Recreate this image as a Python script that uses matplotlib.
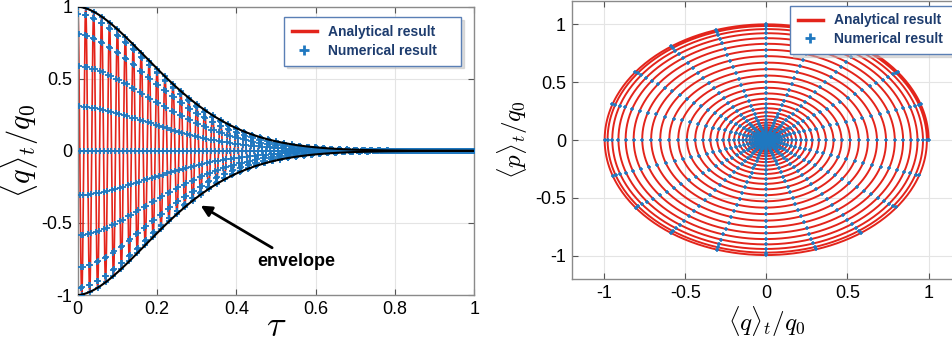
import numpy as np
import matplotlib
matplotlib.use('Agg')
import matplotlib.pyplot as plt
from matplotlib.lines import Line2D

# values
tau_end = 1.0             # tau axis runs 0..1
n_periods = 50            # red peaks counted: one every ~0.02 in tau
samples_per_period = 20   # 20 spokes of blue points in the phase plot
env_rate = 8.95           # envelope: 0.85 at 0.1, 0.5 at 0.215, 0.32 at 0.3, 0.12 at 0.43
env_power = 1.72

xticks_left = [0, 0.2, 0.4, 0.6, 0.8, 1]
xticklabels_left = ['0', '0.2', '0.4', '0.6', '0.8', '1']
yticks = [-1, -0.5, 0, 0.5, 1]
yticklabels = ['-1', '-0.5', '0', '0.5', '1']

legend_labels = ['Analytical result', 'Numerical result']

red = '#e3241b'
blue = '#1f78c0'
navy = '#1d3c6e'

plt.rcParams['font.family'] = ['Liberation Sans', 'DejaVu Sans']
plt.rcParams['mathtext.fontset'] = 'cm'


def envelope(t):
    return np.exp(-env_rate * t ** env_power)


omega = 2 * np.pi * n_periods / tau_end
tau = np.linspace(0, tau_end, 20001)
q = envelope(tau) * np.cos(omega * tau)
p = envelope(tau) * np.sin(omega * tau)

tau_num = np.arange(0, n_periods * samples_per_period + 1) / (n_periods * samples_per_period) * tau_end
q_num = envelope(tau_num) * np.cos(omega * tau_num)
p_num = envelope(tau_num) * np.sin(omega * tau_num)


def style(ax):
    for s in ax.spines.values():
        s.set_color('#8a8a8a')
        s.set_linewidth(1.0)
    ax.tick_params(direction='in', top=True, right=True, length=4,
                   color='#555555', labelsize=13, pad=4)
    ax.grid(True, color='#e4e4e4', linewidth=0.8)
    ax.set_axisbelow(True)


def add_legend(ax, x0, width, top):
    handles = [Line2D([], [], color=red, lw=2.5),
               Line2D([], [], ls='none', marker='+', color=blue, ms=7, mew=2)]
    leg = ax.legend(handles, legend_labels, loc='upper left',
                    bbox_to_anchor=(x0, top - 0.4, width, 0.4), mode='expand',
                    fancybox=False, shadow={'color': '0.75', 'ox': 2, 'oy': -2},
                    edgecolor='#5a7fb5', framealpha=1, handlelength=1.8,
                    prop={'size': 10, 'weight': 'bold'}, borderpad=0.55,
                    labelspacing=0.35, borderaxespad=0)
    for t in leg.get_texts():
        t.set_color(navy)
    return leg


fig = plt.figure(figsize=(9.52, 3.44), dpi=100)

# left: <q>_t versus tau
ax1 = fig.add_axes([0.0817, 0.1424, 0.4166, 0.8381])
style(ax1)
ax1.plot(tau, q, color=red, lw=1.2, zorder=2)
ax1.plot(tau_num, q_num, '+', color=blue, ms=4.5, mew=1.3, zorder=3)
ax1.plot(tau, envelope(tau), color='black', lw=1.5, zorder=4)
ax1.plot(tau, -envelope(tau), color='black', lw=1.5, zorder=4)
ax1.set_xlim(0, 1)
ax1.set_ylim(-1, 1)
ax1.set_xticks(xticks_left)
ax1.set_xticklabels(xticklabels_left)
ax1.set_yticks(yticks)
ax1.set_yticklabels(yticklabels)
ax1.set_xlabel(r'$\tau$', fontsize=26, labelpad=-6)
ax1.set_ylabel(r'$\langle q\rangle_t/q_0$', fontsize=22, labelpad=0)
ax1.annotate('envelope', xy=(0.31, -0.38), xytext=(0.452, -0.77),
             fontsize=13, fontweight='bold', va='center', ha='left',
             arrowprops=dict(arrowstyle='-|>', color='black', lw=2.0,
                             mutation_scale=16, shrinkA=4, shrinkB=0))
add_legend(ax1, 0.52, 0.446, 0.963)

# right: phase portrait
ax2 = fig.add_axes([0.6005, 0.189, 0.409, 0.808])
style(ax2)
ax2.plot(q, p, color=red, lw=1.4, zorder=2)
ax2.plot(q_num, p_num, '+', color=blue, ms=3.5, mew=1.1, zorder=3)
ax2.set_xlim(-1.2, 1.2)
ax2.set_ylim(-1.2, 1.2)
ax2.set_xticks(yticks)
ax2.set_xticklabels(yticklabels)
ax2.set_yticks(yticks)
ax2.set_yticklabels(yticklabels)
ax2.set_xlabel(r'$\langle q\rangle_t/q_0$', fontsize=18, labelpad=2)
ax2.set_ylabel(r'$\langle p\rangle_t/q_0$', fontsize=18, labelpad=4)
add_legend(ax2, 0.561, 0.455, 0.983)

fig.savefig('out.png', dpi=100)
